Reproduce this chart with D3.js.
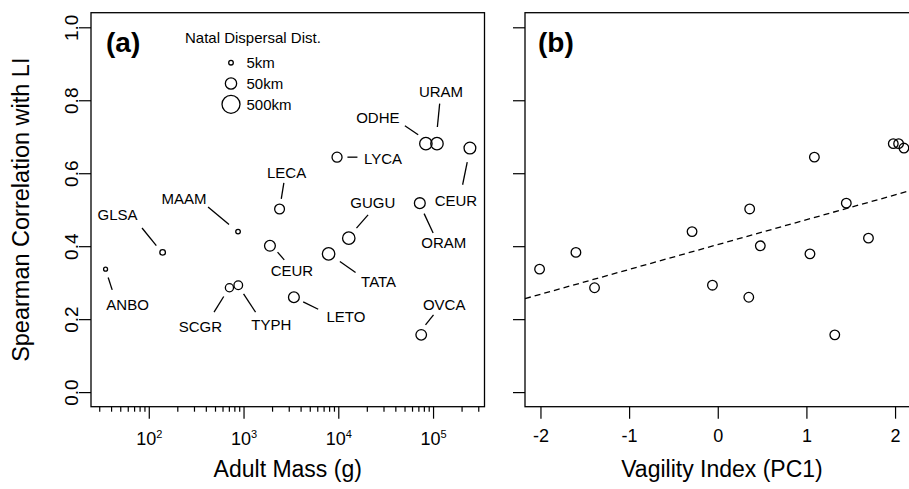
<!DOCTYPE html>
<html lang="en">
<head>
<meta charset="UTF-8">
<title>Spearman Correlation with LI</title>
<script src="https://d3js.org/d3.v7.min.js"></script>
<style>
  body { margin: 0; background: #fff; }
  svg { display: block; font-family: "Liberation Sans", Arial, Helvetica, sans-serif; }
  .box { fill: none; stroke: #000; stroke-width: 1.3; }
  .tick line { stroke: #000; stroke-width: 1.2; }
  .tick text { font-family: "Liberation Sans", Arial, Helvetica, sans-serif; fill: #000; }
  .pt { fill: none; stroke: #000; stroke-width: 1.3; }
  .lbl { font-size: 15px; fill: #000; }
  .leader { stroke: #000; stroke-width: 1.3; }
</style>
</head>
<body>
<svg id="chart" width="909" height="489"></svg>
<script>
// species codes (same order in every array)
const species = ["ANBO", "GLSA", "MAAM", "LECA", "CEUR", "SCGR", "TYPH", "LETO",
                 "TATA", "GUGU", "LYCA", "ODHE", "URAM", "CEUR", "ORAM", "OVCA"];
const adultMass = [35, 140, 875, 2400, 1900, 710, 880, 3400,
                   7900, 12900, 9700, 84000, 110000, 245000, 72500, 75000];
const spearman = [0.337, 0.383, 0.44, 0.502, 0.401, 0.286, 0.293, 0.26,
                  0.379, 0.422, 0.644, 0.681, 0.681, 0.669, 0.518, 0.157];
const vagility = [-2.01, -1.60, -0.29, 0.36, 0.48, -1.39, -0.06, 0.35,
                  1.04, 1.70, 1.09, 1.98, 2.04, 2.10, 1.45, 1.32];
const dispersalKm = [4, 7, 5, 30, 42, 17, 20, 42,
                     73, 73, 32, 73, 73, 59, 42, 39];
const legendKm = [5, 50, 500];
const massTicks = [100, 1000, 10000, 100000];
const corrTicks = [0, 0.2, 0.4, 0.6, 0.8, 1.0];
const pcTicks = [-2, -1, 0, 1, 2];

// label placement for panel (a): [label dx, dy, leader x1, y1, x2, y2] in px from the point
const labelLayout = [
  [22, 36, 2.6, 8.4, 6.6, 20.7],
  [-45, -38, -6.3, -6.7, -20.6, -24.4],
  [-54, -33, -9, -7, -30, -24.7],
  [7, -36, 1.7, -10, 4.3, -26],
  [22, 25, 7.6, 6.3, 14.3, 14],
  [-29, 39, -5.7, 8.7, -15.4, 24.3],
  [33, 40, 5.3, 8.7, 17.3, 27],
  [52, 19, 9.3, 4.7, 24.3, 12],
  [50, 28, 11.3, 7.7, 27, 18.7],
  [24, -35, 7.7, -10, 19.3, -23.3],
  [46, 2, 10.4, 0, 20.4, 0],
  [-48, -26, -7.7, -9, -21, -18],
  [4, -52, 0.4, -16.7, 2.7, -40],
  [-14, 53, -2.7, 14, -7.3, 36.7],
  [24, 40, 4.3, 10.5, 13.3, 29.8],
  [23, -30, 4.3, -10, 12.3, -20]
];

const svg = d3.select("#chart");
const plotTop = 12.7, plotBottom = 406.7;
const aLeft = 91, aRight = 484.5;
const bLeft = 525, bRight = 918.5;

// R-style 4% padding
function pad(ext) { const d = (ext[1] - ext[0]) * 0.04; return [ext[0] - d, ext[1] + d]; }

const y = d3.scaleLinear().domain(pad([0, 1])).range([plotBottom, plotTop]);
const logExt = pad(d3.extent(adultMass, d => Math.log10(d)));
const xa = d3.scaleLog().domain(logExt.map(v => Math.pow(10, v))).range([aLeft, aRight]);
const xb = d3.scaleLinear().domain(pad(d3.extent(vagility))).range([bLeft, bRight]);
const r = d3.scaleLog().domain([5, 500]).range([2.3, 9]);

const data = species.map((s, i) => ({
  s, mass: adultMass[i], rho: spearman[i], pc: vagility[i], km: dispersalKm[i], lay: labelLayout[i]
}));

// ---------- panel (a) ----------
const ga = svg.append("g");

// minor + major ticks on log axis
const minor = [];
for (let e = 1; e <= 5; e++) for (let m = 2; m <= 9; m++) {
  const v = m * Math.pow(10, e);
  if (v >= xa.domain()[0] && v <= xa.domain()[1]) minor.push(v);
}
ga.append("g").attr("class", "tick")
  .attr("transform", `translate(0,${plotBottom})`)
  .call(d3.axisBottom(xa).tickValues(minor).tickSize(5).tickFormat(""))
  .call(g => g.select(".domain").remove());
const xaxA = ga.append("g").attr("class", "tick")
  .attr("transform", `translate(0,${plotBottom})`)
  .call(d3.axisBottom(xa).tickValues(massTicks).tickSize(12).tickFormat(""))
  .call(g => g.select(".domain").remove());
xaxA.selectAll(".tick").each(function(d) {
  const t = d3.select(this).append("text")
    .attr("y", 38).attr("text-anchor", "middle")
    .style("font-size", "18px");
  t.append("tspan").text("10");
  t.append("tspan").attr("dy", -7).style("font-size", "11px").text(Math.round(Math.log10(d)));
});

const yaxA = ga.append("g").attr("class", "tick")
  .attr("transform", `translate(${aLeft},0)`)
  .call(d3.axisLeft(y).tickValues(corrTicks).tickSize(12).tickFormat(d3.format(".1f")))
  .call(g => g.select(".domain").remove());
yaxA.selectAll("text")
  .attr("x", null).attr("dy", null)
  .attr("transform", "translate(-13,0) rotate(-90)")
  .attr("text-anchor", "middle")
  .style("font-size", "19px");

ga.append("rect").attr("class", "box")
  .attr("x", aLeft).attr("y", plotTop).attr("width", aRight - aLeft).attr("height", plotBottom - plotTop);

ga.selectAll("circle.pt").data(data).join("circle")
  .attr("class", "pt")
  .attr("cx", d => xa(d.mass)).attr("cy", d => y(d.rho)).attr("r", d => r(d.km));

ga.selectAll("line.leader").data(data).join("line")
  .attr("class", "leader")
  .attr("x1", d => xa(d.mass) + d.lay[2]).attr("y1", d => y(d.rho) + d.lay[3])
  .attr("x2", d => xa(d.mass) + d.lay[4]).attr("y2", d => y(d.rho) + d.lay[5]);

ga.selectAll("text.lbl").data(data).join("text")
  .attr("class", "lbl")
  .attr("x", d => xa(d.mass) + d.lay[0]).attr("y", d => y(d.rho) + d.lay[1])
  .attr("dy", "0.35em").attr("text-anchor", "middle")
  .text(d => d.s);

// legend
const leg = ga.append("g");
leg.append("text").attr("class", "lbl").attr("x", 185).attr("y", 38).attr("dy", "0.35em")
  .text("Natal Dispersal Dist.");
const legRow = d3.scalePoint().domain(legendKm).range([62.7, 104.3]);
legendKm.forEach(k => {
  leg.append("circle").attr("class", "pt").attr("cx", 231).attr("cy", legRow(k)).attr("r", r(k));
  leg.append("text").attr("class", "lbl").attr("x", 246.5).attr("y", legRow(k)).attr("dy", "0.35em")
    .text(k + "km");
});

ga.append("text").attr("x", aLeft + 15).attr("y", 52.4)
  .style("font-size", "28px").style("font-weight", "bold").text("(a)");

ga.append("text").attr("x", (aLeft + aRight) / 2).attr("y", 477)
  .attr("text-anchor", "middle").style("font-size", "23px").text("Adult Mass (g)");

svg.append("text")
  .attr("transform", `translate(29,${(plotTop + plotBottom) / 2}) rotate(-90)`)
  .attr("text-anchor", "middle").style("font-size", "23.5px")
  .text("Spearman Correlation with LI");

// ---------- panel (b) ----------
const gb = svg.append("g");

gb.append("g").attr("class", "tick")
  .attr("transform", `translate(0,${plotBottom})`)
  .call(d3.axisBottom(xb).tickValues(pcTicks).tickSize(12).tickFormat(d => String(d)))
  .call(g => g.select(".domain").remove())
  .call(g => g.selectAll("text").attr("y", 23).attr("dy", "0.71em")
    .style("font-size", "18px"));

gb.append("g").attr("class", "tick")
  .attr("transform", `translate(${bLeft},0)`)
  .call(d3.axisLeft(y).tickValues(corrTicks).tickSize(12).tickFormat(""))
  .call(g => g.select(".domain").remove());

gb.append("rect").attr("class", "box")
  .attr("x", bLeft).attr("y", plotTop).attr("width", bRight - bLeft).attr("height", plotBottom - plotTop);

// least-squares fit of rho on vagility
const mx = d3.mean(vagility), my = d3.mean(spearman);
const slope = d3.sum(vagility, (v, i) => (v - mx) * (spearman[i] - my)) /
              d3.sum(vagility, v => (v - mx) * (v - mx));
const icpt = my - slope * mx;
gb.append("line")
  .attr("x1", bLeft).attr("y1", y(icpt + slope * xb.invert(bLeft)))
  .attr("x2", bRight).attr("y2", y(icpt + slope * xb.invert(bRight)))
  .attr("stroke", "#000").attr("stroke-width", 1.3).attr("stroke-dasharray", "6,4");

gb.selectAll("circle.pt").data(data).join("circle")
  .attr("class", "pt")
  .attr("cx", d => xb(d.pc)).attr("cy", d => y(d.rho)).attr("r", 4.8);

gb.append("text").attr("x", bLeft + 13).attr("y", 52.4)
  .style("font-size", "28px").style("font-weight", "bold").text("(b)");

gb.append("text").attr("x", 722).attr("y", 477)
  .attr("text-anchor", "middle").style("font-size", "23px").text("Vagility Index (PC1)");
</script>
</body>
</html>
